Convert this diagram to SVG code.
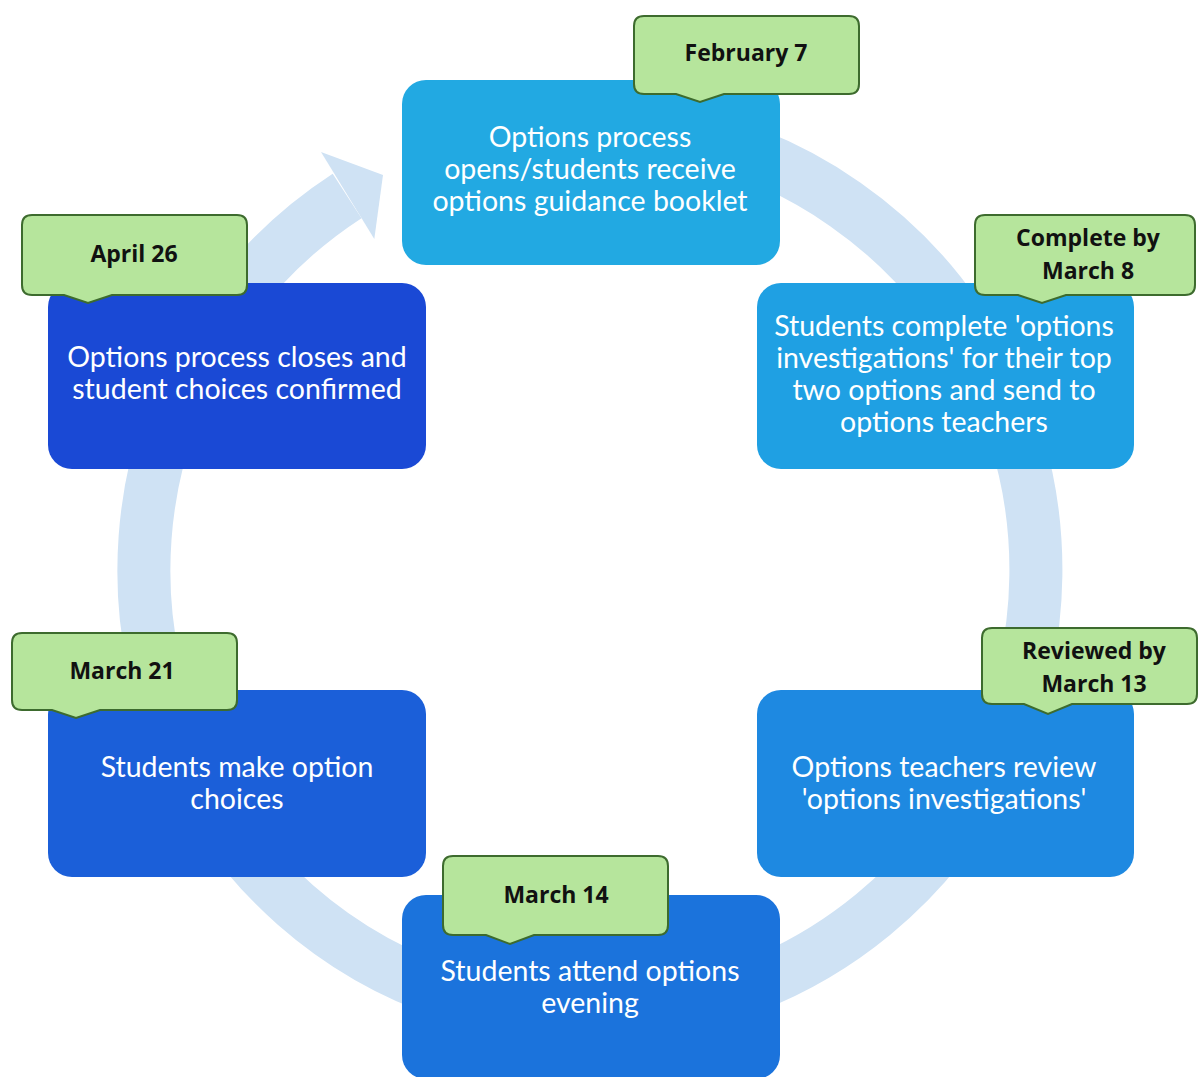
<svg xmlns="http://www.w3.org/2000/svg" width="1199" height="1077" viewBox="0 0 1199 1077">
<style>
.box{stroke:none}
.bt{font-family:Lato,"Open Sans","Liberation Sans",sans-serif;font-size:28.5px;fill:#ffffff;text-anchor:middle}
.co{fill:#b6e59c;stroke:#3d6b2e;stroke-width:2}
.ct{font-family:"Open Sans","Liberation Sans",sans-serif;font-weight:bold;font-size:23px;fill:#111;text-anchor:middle}
.ring{fill:none;stroke:#cfe2f4;stroke-width:53}
</style>
<rect width="1199" height="1077" fill="#ffffff"/>
<g id="connectors">
<path class="ring" d="M667.4,130.8 A446,446 0 1 1 347.1,195.9"/>
<polygon points="321,152 383,175 374.3,239" fill="#cfe2f4"/>
</g>
<g id="n1">
<rect class="box" x="402" y="80" width="378" height="185" rx="24" fill="#22a9e2"/>
<text class="bt" x="590" y="147">Options process</text>
<text class="bt" x="590" y="179">opens/students receive</text>
<text class="bt" x="590" y="211">options guidance booklet</text>
<path class="co" d="M644,16 H849 Q859,16 859,26 V84 Q859,94 849,94 H724 L700,102 L676,94 H644 Q634,94 634,84 V26 Q634,16 644,16 Z"/>
<text class="ct" x="746" y="61">February 7</text>
</g>
<g id="n2">
<rect class="box" x="757" y="283" width="377" height="186" rx="24" fill="#1fa0e3"/>
<text class="bt" x="944" y="336">Students complete 'options</text>
<text class="bt" x="944" y="368">investigations' for their top</text>
<text class="bt" x="944" y="400">two options and send to</text>
<text class="bt" x="944" y="432">options teachers</text>
<path class="co" d="M985,215 H1185 Q1195,215 1195,225 V285 Q1195,295 1185,295 H1066 L1042,303 L1018,295 H985 Q975,295 975,285 V225 Q975,215 985,215 Z"/>
<text class="ct" x="1088" y="246">Complete by</text>
<text class="ct" x="1088" y="279">March 8</text>
</g>
<g id="n3">
<rect class="box" x="757" y="690" width="377" height="187" rx="24" fill="#1e89e1"/>
<text class="bt" x="944" y="777">Options teachers review</text>
<text class="bt" x="944" y="809">'options investigations'</text>
<path class="co" d="M992,628 H1187 Q1197,628 1197,638 V694 Q1197,704 1187,704 H1072 L1048,714 L1024,704 H992 Q982,704 982,694 V638 Q982,628 992,628 Z"/>
<text class="ct" x="1094" y="659">Reviewed by</text>
<text class="ct" x="1094" y="692">March 13</text>
</g>
<g id="n4">
<rect class="box" x="402" y="895" width="378" height="184" rx="24" fill="#1b73dc"/>
<text class="bt" x="590" y="981">Students attend options</text>
<text class="bt" x="590" y="1013">evening</text>
<path class="co" d="M453,856 H658 Q668,856 668,866 V925 Q668,935 658,935 H534 L510,944 L486,935 H453 Q443,935 443,925 V866 Q443,856 453,856 Z"/>
<text class="ct" x="556" y="903">March 14</text>
</g>
<g id="n5">
<rect class="box" x="48" y="690" width="378" height="187" rx="24" fill="#1b5fd9"/>
<text class="bt" x="237" y="777">Students make option</text>
<text class="bt" x="237" y="809">choices</text>
<path class="co" d="M22,633 H227 Q237,633 237,643 V700 Q237,710 227,710 H100 L76,718 L52,710 H22 Q12,710 12,700 V643 Q12,633 22,633 Z"/>
<text class="ct" x="122" y="679">March 21</text>
</g>
<g id="n6">
<rect class="box" x="48" y="283" width="378" height="186" rx="24" fill="#1a49d5"/>
<text class="bt" x="237" y="367">Options process closes and</text>
<text class="bt" x="237" y="399">student choices confirmed</text>
<path class="co" d="M32,215 H237 Q247,215 247,225 V285 Q247,295 237,295 H112 L88,303 L64,295 H32 Q22,295 22,285 V225 Q22,215 32,215 Z"/>
<text class="ct" x="134" y="262">April 26</text>
</g>
</svg>
